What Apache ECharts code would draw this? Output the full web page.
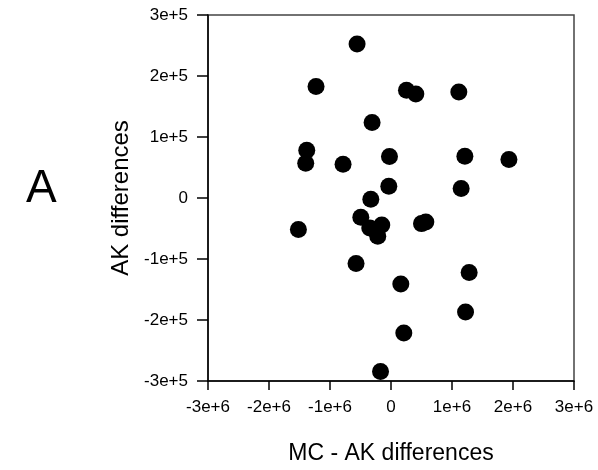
<!DOCTYPE html>
<html>
<head>
<meta charset="utf-8">
<script src="https://cdn.jsdelivr.net/npm/echarts@6/dist/echarts.min.js"></script>
<style>
html,body{margin:0;padding:0;background:#fff;}
#chart{width:598px;height:470px;}
</style>
</head>
<body>
<div id="chart"></div>
<script>
// MC - AK differences (x) vs AK differences (y)
const xValues = [-0.556e6, -1.229e6, -0.310e6, -1.381e6, -1.398e6, -0.786e6, -0.025e6, -0.036e6, -0.331e6,
  0.254e6, 0.407e6, 1.112e6, 1.211e6, 1.933e6, 1.150e6, -0.495e6, -1.518e6, -0.348e6, -0.151e6,
  -0.217e6, -0.573e6, -0.172e6, 0.500e6, 0.571e6, 1.281e6, 0.161e6, 1.222e6, 0.210e6];
const yValues = [2.525e5, 1.826e5, 1.236e5, 0.782e5, 0.570e5, 0.552e5, 0.679e5, 0.192e5, -0.021e5,
  1.766e5, 1.705e5, 1.738e5, 0.684e5, 0.630e5, 0.154e5, -0.316e5, -0.518e5, -0.492e5, -0.443e5,
  -0.628e5, -1.075e5, -2.846e5, -0.420e5, -0.393e5, -1.223e5, -1.410e5, -1.869e5, -2.213e5];
const xTickLabels = {'-3000000':'-3e+6','-2000000':'-2e+6','-1000000':'-1e+6','0':'0','1000000':'1e+6','2000000':'2e+6','3000000':'3e+6'};
const yTickLabels = {'-300000':'-3e+5','-200000':'-2e+5','-100000':'-1e+5','0':'0','100000':'1e+5','200000':'2e+5','300000':'3e+5'};
const xTitle = 'MC - AK differences';
const yTitle = 'AK differences';
const panelLabel = 'A';

const points = xValues.map((x, i) => [x, yValues[i]]);
const font = 'Liberation Sans, Arial, sans-serif';

const chart = echarts.init(document.getElementById('chart'), null, {renderer: 'canvas'});
chart.setOption({
  animation: false,
  backgroundColor: '#fff',
  grid: {left: 208, top: 15, right: 24, bottom: 89, show: true, borderColor: '#444', borderWidth: 1.5, containLabel: false},
  xAxis: {
    type: 'value', min: -3e6, max: 3e6, interval: 1e6,
    name: xTitle, nameLocation: 'middle', nameGap: 61,
    nameTextStyle: {fontFamily: font, fontSize: 23, color: '#000'},
    axisLine: {show: true, onZero: false, lineStyle: {color: '#000', width: 1.5}},
    axisTick: {show: true, inside: false, length: 9, lineStyle: {color: '#000', width: 1.5}},
    axisLabel: {fontFamily: font, fontSize: 17, color: '#000', margin: 18, formatter: v => xTickLabels[String(v)]},
    splitLine: {show: false}
  },
  yAxis: {
    type: 'value', min: -3e5, max: 3e5, interval: 1e5,
    name: yTitle, nameLocation: 'middle', nameGap: 65, nameRotate: 90,
    nameTextStyle: {fontFamily: font, fontSize: 24, color: '#000'},
    axisLine: {show: true, onZero: false, lineStyle: {color: '#000', width: 1.5}},
    axisTick: {show: true, inside: false, length: 11, lineStyle: {color: '#000', width: 1.5}},
    axisLabel: {fontFamily: font, fontSize: 17, color: '#000', margin: 20, formatter: v => yTickLabels[String(v)]},
    splitLine: {show: false}
  },
  graphic: [{
    type: 'text', left: 26, top: 166,
    style: {text: panelLabel, font: '46px ' + font, fill: '#000'}
  }],
  series: [{
    type: 'scatter',
    data: points,
    symbol: 'circle',
    symbolSize: 17,
    itemStyle: {color: '#000', opacity: 1}
  }]
});
</script>
</body>
</html>
